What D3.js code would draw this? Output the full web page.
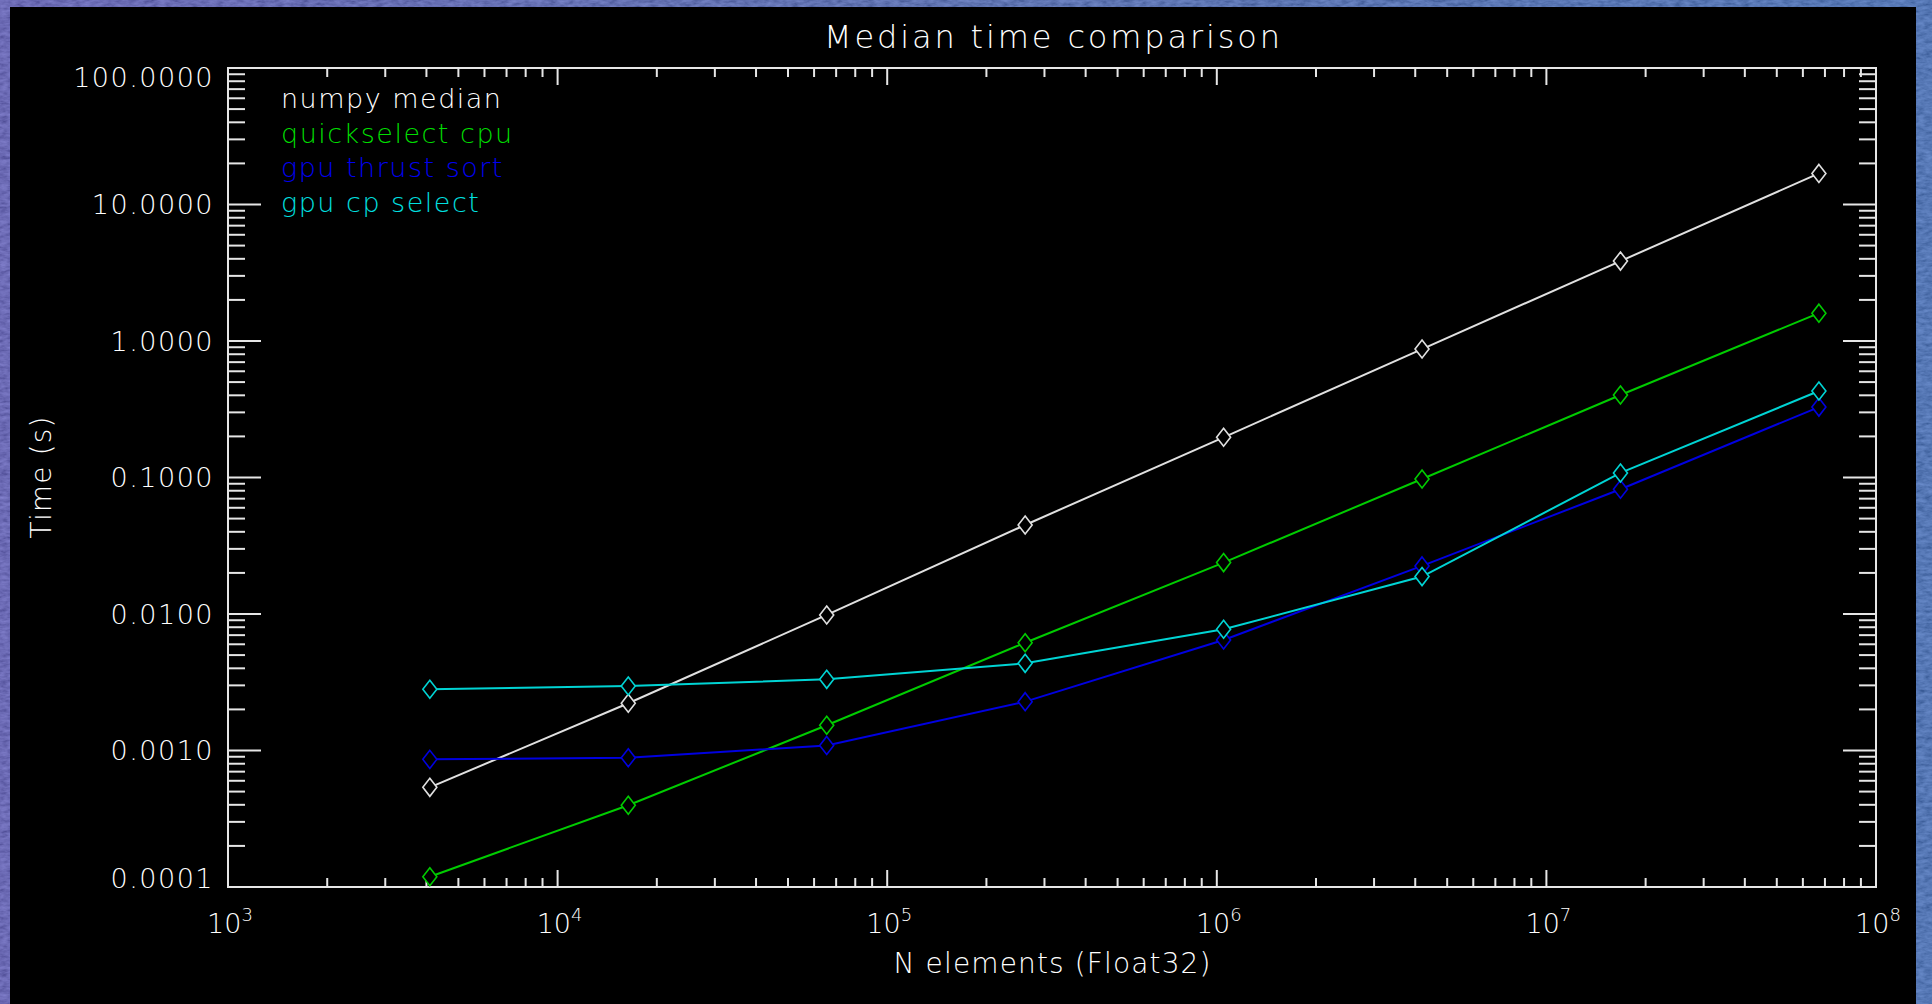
<!DOCTYPE html>
<html>
<head>
<meta charset="utf-8">
<script src="https://cdn.jsdelivr.net/npm/d3@7/dist/d3.min.js"></script>
<style>
    html, body { margin: 0; padding: 0; background: #000; }
    svg { display: block; }
    text { font-family: "DejaVu Sans ExtraLight", "DejaVu Sans", "Liberation Sans", sans-serif; font-weight: 200; }
</style>
</head>
<body>
<script>
/** Data **/
var n_elements = [4096, 16384, 65536, 262144, 1048576, 4194304, 16777216, 67108864];
var numpy_median = [0.000537, 0.00222, 0.00984, 0.0449, 0.197, 0.873, 3.85, 16.9];
var quickselect_cpu = [0.000119, 0.000397, 0.00153, 0.00616, 0.0238, 0.0975, 0.402, 1.60];
var gpu_thrust_sort = [0.000861, 0.000885, 0.00109, 0.00228, 0.00645, 0.0225, 0.082, 0.328];
var gpu_cp_select = [0.00281, 0.00297, 0.00332, 0.00435, 0.00773, 0.0188, 0.108, 0.430];
var series_names = ["numpy median", "quickselect cpu", "gpu thrust sort", "gpu cp select"];
var x_decades = [1e3, 1e4, 1e5, 1e6, 1e7, 1e8];
var y_decades = [1e-4, 1e-3, 1e-2, 1e-1, 1e0, 1e1, 1e2];

var width = 1932, height = 1004;
var margin = {left: 228, right: 1876, top: 68, bottom: 887};
var axisColor = "#e6e6e6";
var textColor = "#ffffff";
var colors = ["#e0e0e0", "#00cc00", "#0000e0", "#00d4d4"];
var textColors = ["#ffffff", "#00dd00", "#0000f0", "#00e0e0"];
var allSeries = [numpy_median, quickselect_cpu, gpu_thrust_sort, gpu_cp_select];

var svg = d3.select("body").append("svg")
    .attr("width", width)
    .attr("height", height);

/** Blue textured slide background with the black plot window **/
var defs = svg.append("defs");
var grad = defs.append("linearGradient").attr("id", "bg").attr("x1", 0).attr("y1", 0).attr("x2", 1).attr("y2", 0);
grad.append("stop").attr("offset", "0%").attr("stop-color", "#5552d0");
grad.append("stop").attr("offset", "50%").attr("stop-color", "#3e63c9");
grad.append("stop").attr("offset", "100%").attr("stop-color", "#2c6ad0");
var filt = defs.append("filter").attr("id", "tex");
filt.append("feTurbulence").attr("type", "fractalNoise").attr("baseFrequency", "0.12 0.3").attr("numOctaves", 3);
filt.append("feColorMatrix").attr("type", "matrix")
    .attr("values", "0.5 0 0 0 0  0.5 0 0 0 0  0.6 0 0 0 0  0 0 0 0 0.45");

svg.append("rect").attr("width", width).attr("height", height).attr("fill", "url(#bg)");
svg.append("rect").attr("width", width).attr("height", height).attr("filter", "url(#tex)");
svg.append("rect").attr("x", 10).attr("y", 7).attr("width", 1906).attr("height", height - 7).attr("fill", "#000");

/** Log scales **/
var x = d3.scaleLog().domain([1e3, 1e8]).range([margin.left, margin.right]);
var y = d3.scaleLog().domain([1e-4, 1e2]).range([margin.bottom, margin.top]);

function isMajor(v) {
    var l = Math.log10(v);
    return Math.abs(l - Math.round(l)) < 1e-9;
}

/** Axis box **/
svg.append("rect")
    .attr("x", margin.left).attr("y", margin.top)
    .attr("width", margin.right - margin.left)
    .attr("height", margin.bottom - margin.top)
    .attr("fill", "none")
    .attr("stroke", axisColor)
    .attr("stroke-width", 2);

/** Ticks (inward, on all four sides) **/
var xTicks = x.ticks();
var yTicks = y.ticks();
var ticks = svg.append("g").attr("stroke", axisColor).attr("stroke-width", 2);

ticks.selectAll(".xb").data(xTicks).enter().append("line")
    .attr("x1", function (d) { return x(d); }).attr("x2", function (d) { return x(d); })
    .attr("y1", margin.bottom)
    .attr("y2", function (d) { return margin.bottom - (isMajor(d) ? 17 : 9); });
ticks.selectAll(".xt").data(xTicks).enter().append("line")
    .attr("x1", function (d) { return x(d); }).attr("x2", function (d) { return x(d); })
    .attr("y1", margin.top)
    .attr("y2", function (d) { return margin.top + (isMajor(d) ? 17 : 9); });
ticks.selectAll(".yl").data(yTicks).enter().append("line")
    .attr("y1", function (d) { return y(d); }).attr("y2", function (d) { return y(d); })
    .attr("x1", margin.left)
    .attr("x2", function (d) { return margin.left + (isMajor(d) ? 33 : 17); });
ticks.selectAll(".yr").data(yTicks).enter().append("line")
    .attr("y1", function (d) { return y(d); }).attr("y2", function (d) { return y(d); })
    .attr("x1", margin.right)
    .attr("x2", function (d) { return margin.right - (isMajor(d) ? 33 : 17); });

/** Y tick labels **/
var fmt = d3.format(".4f");
svg.selectAll(".ylab").data(y_decades).enter().append("text")
    .attr("x", 214)
    .attr("y", function (d) { return Math.max(margin.top + 9, Math.min(margin.bottom - 9, y(d))); })
    .attr("text-anchor", "end")
    .attr("dominant-baseline", "central")
    .style("font-size", "27px")
    .style("letter-spacing", "1.5px")
    .style("fill", textColor)
    .text(function (d) { return fmt(d); });

/** X tick labels as 10^n **/
var xl = svg.selectAll(".xlab").data(x_decades).enter().append("text")
    .attr("x", function (d) { return x(d) + 2; })
    .attr("y", 933)
    .attr("text-anchor", "middle")
    .style("font-size", "27px")
    .style("fill", textColor);
xl.append("tspan").text("10");
xl.append("tspan")
    .attr("dy", -12)
    .style("font-size", "18px")
    .text(function (d) { return Math.round(Math.log10(d)); });

/** Titles **/
svg.append("text")
    .attr("x", (margin.left + margin.right) / 2)
    .attr("y", 48)
    .attr("text-anchor", "middle")
    .attr("textLength", 456)
    .attr("lengthAdjust", "spacing")
    .style("font-size", "32px")
    .style("fill", textColor)
    .text("Median time comparison");

svg.append("text")
    .attr("x", (margin.left + margin.right) / 2)
    .attr("y", 973)
    .attr("text-anchor", "middle")
    .attr("textLength", 317)
    .attr("lengthAdjust", "spacing")
    .style("font-size", "28px")
    .style("fill", textColor)
    .text("N elements (Float32)");

svg.append("text")
    .attr("transform", "translate(41," + ((margin.top + margin.bottom) / 2) + ") rotate(-90)")
    .attr("text-anchor", "middle")
    .attr("dominant-baseline", "central")
    .attr("textLength", 122)
    .attr("lengthAdjust", "spacing")
    .style("font-size", "28px")
    .style("fill", textColor)
    .text("Time (s)");

/** Series lines and diamond markers **/
var line = d3.line()
    .x(function (d) { return x(d[0]); })
    .y(function (d) { return y(d[1]); });

var diamond = "M0,-9L7,0L0,9L-7,0Z";

allSeries.forEach(function (vals, i) {
    var pts = n_elements.map(function (n, j) { return [n, vals[j]]; });
    var g = svg.append("g");
    g.append("path")
        .datum(pts)
        .attr("d", line)
        .attr("fill", "none")
        .attr("stroke", colors[i])
        .attr("stroke-width", 2);
    g.selectAll("path.mark").data(pts).enter().append("path")
        .attr("class", "mark")
        .attr("d", diamond)
        .attr("transform", function (d) { return "translate(" + x(d[0]) + "," + y(d[1]) + ")"; })
        .attr("fill", "#000")
        .attr("stroke", colors[i])
        .attr("stroke-width", 1.6);
});

/** Legend **/
svg.selectAll(".legend").data(series_names).enter().append("text")
    .attr("x", 281)
    .attr("y", function (d, i) { return 108 + i * 34.5; })
    .style("font-size", "27px")
    .style("letter-spacing", "1.5px")
    .style("fill", function (d, i) { return textColors[i]; })
    .text(function (d) { return d; });
</script>
</body>
</html>
